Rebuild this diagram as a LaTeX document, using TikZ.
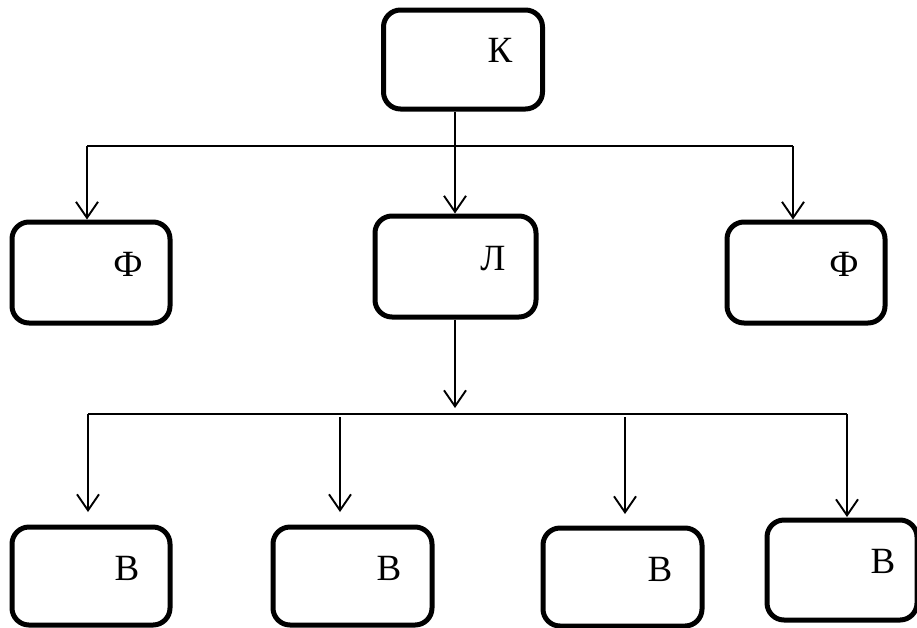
\documentclass[tikz,border=0pt]{standalone}
\usepackage{fontspec}
\setmainfont{Liberation Serif}
\usetikzlibrary{arrows.meta}
\begin{document}
\begin{tikzpicture}[x=1pt,y=-1pt,
  box/.style={draw=black,line width=5pt,rounded corners=17pt,fill=white},
  lbl/.style={inner sep=0pt,font=\fontsize{37}{42}\selectfont},
  conn/.style={line width=1.9pt},
  arr/.style={conn,-{Straight Barb[length=16pt,width=22pt,line width=1.9pt]}}]
\useasboundingbox (0,0) rectangle (917,627);
% boxes
\node[box,minimum width=159pt,minimum height=99pt] (K) at (463,59.5) {};
\node[box,minimum width=158pt,minimum height=101pt] (F1) at (91,272.5) {};
\node[box,minimum width=161pt,minimum height=101pt] (L) at (455.5,266.5) {};
\node[box,minimum width=158pt,minimum height=101pt] (F2) at (806,272.5) {};
\node[box,minimum width=158pt,minimum height=98pt] (B1) at (91,576) {};
\node[box,minimum width=159pt,minimum height=98pt] (B2) at (352.5,576) {};
\node[box,minimum width=159pt,minimum height=98pt] (B3) at (622.5,577) {};
\node[box,minimum width=150pt,minimum height=100pt] (B4) at (842,570) {};
% labels
\node[lbl] (tK) at (500,50) {К};
\node[lbl] (tF1) at (128,264) {Ф};
\node[lbl] (tL) at (493,259) {Л};
\node[lbl] (tF2) at (844,264) {Ф};
\node[lbl] (tB1) at (127,568) {В};
\node[lbl] (tB2) at (389,568) {В};
\node[lbl] (tB3) at (660,569) {В};
\node[lbl] (tB4) at (883,561) {В};
% junctions
\coordinate (h1) at (87,146);
\coordinate (h2) at (455,146);
\coordinate (h3) at (793,146);
\coordinate (g0) at (455,408);
\coordinate (g1) at (88,414);
\coordinate (g2) at (340,417);
\coordinate (g3) at (625,417);
\coordinate (g4) at (847,414);
\coordinate (t1) at (88,512);
\coordinate (t2) at (340,512);
\coordinate (t3) at (625,514);
\coordinate (t4) at (847,517);
% top level connectors
\draw[arr] (K.south -| h2) -- (L.north -| h2);
\draw[conn] (h1) -- (h3);
\draw[arr] (h1) -- (F1.north -| h1);
\draw[arr] (h3) -- (F2.north -| h3);
% bottom connectors
\draw[arr] (L.south -| g0) -- (g0);
\draw[conn] (g1) -- (g4);
\draw[arr] (g1) -- (t1);
\draw[arr] (g2) -- (t2);
\draw[arr] (g3) -- (t3);
\draw[arr] (g4) -- (t4);
\end{tikzpicture}
\end{document}
